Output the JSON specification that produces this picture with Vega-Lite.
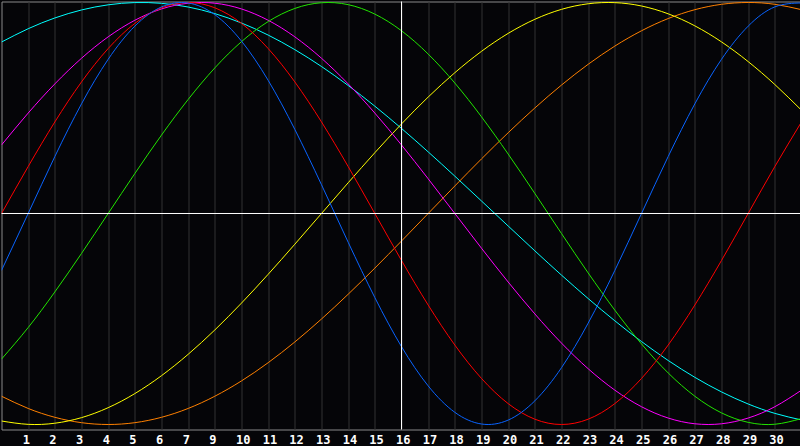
{
  "$schema": "https://vega.github.io/schema/vega-lite/v6.json",
  "width": 799,
  "height": 428,
  "padding": {"left": 0.5, "top": 0.5, "right": 0, "bottom": 0},
  "background": "#050508",
  "config": {
    "view": {"stroke": "#8a8a8a", "strokeWidth": 1, "fill": "#050508"},
    "axisX": {
      "grid": true,
      "gridColor": "#333333",
      "gridWidth": 1,
      "domain": false,
      "ticks": false,
      "labelColor": "#ffffff",
      "labelFont": "DejaVu Sans Mono",
      "labelFontWeight": "bold",
      "labelFontSize": 12,
      "labelAlign": "left",
      "labelOffset": -6,
      "labelPadding": 5,
      "labelFlush": false,
      "labelOverlap": false,
      "labelBound": false,
      "title": null
    }
  },
  "layer": [
    {
      "data": {"values": [
        {"t": 0, "blue": -0.2698, "red": 0, "green": -0.6901, "magenta": 0.3247, "yellow": -0.9834, "orange": -0.8660, "cyan": 0.8126},
        {"t": 1, "blue": 0, "red": 0.2225, "green": -0.5406, "magenta": 0.4759, "yellow": -0.9993, "orange": -0.9239, "cyan": 0.8757},
        {"t": 2, "blue": 0.2698, "red": 0.4339, "green": -0.3717, "magenta": 0.6142, "yellow": -0.9940, "orange": -0.9659, "cyan": 0.9267},
        {"t": 3, "blue": 0.5196, "red": 0.6235, "green": -0.1893, "magenta": 0.7357, "yellow": -0.9675, "orange": -0.9914, "cyan": 0.9646},
        {"t": 4, "blue": 0.7308, "red": 0.7818, "green": 0, "magenta": 0.8372, "yellow": -0.9203, "orange": -1, "cyan": 0.9890},
        {"t": 5, "blue": 0.8879, "red": 0.9010, "green": 0.1893, "magenta": 0.9158, "yellow": -0.8536, "orange": -0.9914, "cyan": 0.9996},
        {"t": 6, "blue": 0.9791, "red": 0.9749, "green": 0.3717, "magenta": 0.9694, "yellow": -0.7686, "orange": -0.9659, "cyan": 0.9960},
        {"t": 7, "blue": 0.9977, "red": 1, "green": 0.5406, "magenta": 0.9966, "yellow": -0.6673, "orange": -0.9239, "cyan": 0.9786},
        {"t": 8, "blue": 0.9423, "red": 0.9749, "green": 0.6901, "magenta": 0.9966, "yellow": -0.5518, "orange": -0.8660, "cyan": 0.9473},
        {"t": 9, "blue": 0.8170, "red": 0.9010, "green": 0.8146, "magenta": 0.9694, "yellow": -0.4245, "orange": -0.7934, "cyan": 0.9028},
        {"t": 10, "blue": 0.6311, "red": 0.7818, "green": 0.9096, "magenta": 0.9158, "yellow": -0.2881, "orange": -0.7071, "cyan": 0.8456},
        {"t": 11, "blue": 0.3984, "red": 0.6235, "green": 0.9718, "magenta": 0.8372, "yellow": -0.1456, "orange": -0.6088, "cyan": 0.7765},
        {"t": 12, "blue": 0.1362, "red": 0.4339, "green": 0.9989, "magenta": 0.7357, "yellow": 0, "orange": -0.5, "cyan": 0.6966},
        {"t": 13, "blue": -0.1362, "red": 0.2225, "green": 0.9898, "magenta": 0.6142, "yellow": 0.1456, "orange": -0.3827, "cyan": 0.6068},
        {"t": 14, "blue": -0.3984, "red": 0, "green": 0.9450, "magenta": 0.4759, "yellow": 0.2881, "orange": -0.2588, "cyan": 0.5086},
        {"t": 15, "blue": -0.6311, "red": -0.2225, "green": 0.8660, "magenta": 0.3247, "yellow": 0.4245, "orange": -0.1305, "cyan": 0.4031},
        {"t": 16, "blue": -0.8170, "red": -0.4339, "green": 0.7557, "magenta": 0.1646, "yellow": 0.5518, "orange": 0, "cyan": 0.2921},
        {"t": 17, "blue": -0.9423, "red": -0.6235, "green": 0.6182, "magenta": 0, "yellow": 0.6673, "orange": 0.1305, "cyan": 0.1769},
        {"t": 18, "blue": -0.9977, "red": -0.7818, "green": 0.4582, "magenta": -0.1646, "yellow": 0.7686, "orange": 0.2588, "cyan": 0.0592},
        {"t": 19, "blue": -0.9791, "red": -0.9010, "green": 0.2817, "magenta": -0.3247, "yellow": 0.8536, "orange": 0.3827, "cyan": -0.0592},
        {"t": 20, "blue": -0.8879, "red": -0.9749, "green": 0.0951, "magenta": -0.4759, "yellow": 0.9203, "orange": 0.5, "cyan": -0.1769},
        {"t": 21, "blue": -0.7308, "red": -1, "green": -0.0951, "magenta": -0.6142, "yellow": 0.9675, "orange": 0.6088, "cyan": -0.2921},
        {"t": 22, "blue": -0.5196, "red": -0.9749, "green": -0.2817, "magenta": -0.7357, "yellow": 0.9940, "orange": 0.7071, "cyan": -0.4031},
        {"t": 23, "blue": -0.2698, "red": -0.9010, "green": -0.4582, "magenta": -0.8372, "yellow": 0.9993, "orange": 0.7934, "cyan": -0.5086},
        {"t": 24, "blue": 0, "red": -0.7818, "green": -0.6182, "magenta": -0.9158, "yellow": 0.9834, "orange": 0.8660, "cyan": -0.6068},
        {"t": 25, "blue": 0.2698, "red": -0.6235, "green": -0.7557, "magenta": -0.9694, "yellow": 0.9464, "orange": 0.9239, "cyan": -0.6966},
        {"t": 26, "blue": 0.5196, "red": -0.4339, "green": -0.8660, "magenta": -0.9966, "yellow": 0.8894, "orange": 0.9659, "cyan": -0.7765},
        {"t": 27, "blue": 0.7308, "red": -0.2225, "green": -0.9450, "magenta": -0.9966, "yellow": 0.8133, "orange": 0.9914, "cyan": -0.8456},
        {"t": 28, "blue": 0.8879, "red": 0, "green": -0.9898, "magenta": -0.9694, "yellow": 0.7199, "orange": 1, "cyan": -0.9028},
        {"t": 29, "blue": 0.9791, "red": 0.2225, "green": -0.9989, "magenta": -0.9158, "yellow": 0.6112, "orange": 0.9914, "cyan": -0.9473},
        {"t": 30, "blue": 0.9977, "red": 0.4339, "green": -0.9718, "magenta": -0.8372, "yellow": 0.4894, "orange": 0.9659, "cyan": -0.9786}
      ]},
      "transform": [
        {"fold": ["cyan", "orange", "yellow", "magenta", "green", "red", "blue"], "as": ["series", "v"]}
      ],
      "mark": {"type": "line", "interpolate": "natural", "strokeWidth": 1, "clip": true},
      "encoding": {
        "x": {
          "field": "t",
          "type": "quantitative",
          "scale": {"domain": [0, 29.9625], "nice": false, "zero": false},
          "axis": {
            "values": [1, 2, 3, 4, 5, 6, 7, 8, 9, 10, 11, 12, 13, 14, 15, 16, 17, 18, 19, 20, 21, 22, 23, 24, 25, 26, 27, 28, 29],
            "tickCount": 40,
            "labelExpr": "datum.value <= 7 ? datum.value : datum.value + 1",
            "labelAlign": "left",
            "labelOffset": -6,
            "labelOverlap": false,
            "labelBound": false,
            "labelFlush": false
          }
        },
        "y": {
          "field": "v",
          "type": "quantitative",
          "scale": {"domain": [-1.0237, 1.0047], "nice": false, "zero": false},
          "axis": null
        },
        "color": {
          "field": "series",
          "type": "nominal",
          "scale": {
            "domain": ["blue", "red", "green", "magenta", "yellow", "orange", "cyan"],
            "range": ["#0a64ff", "#ff0000", "#22e400", "#ff00ff", "#ffff00", "#ff8000", "#00ffff"]
          },
          "legend": null
        },
        "detail": {"field": "series", "type": "nominal"}
      }
    },
    {
      "data": {"values": [{}]},
      "mark": {"type": "rule", "color": "#ffffff", "strokeWidth": 1},
      "encoding": {"x": {"datum": 15, "type": "quantitative"}}
    },
    {
      "data": {"values": [{}]},
      "mark": {"type": "rule", "color": "#ffffff", "strokeWidth": 1},
      "encoding": {"y": {"datum": 0, "type": "quantitative"}}
    }
  ]
}
